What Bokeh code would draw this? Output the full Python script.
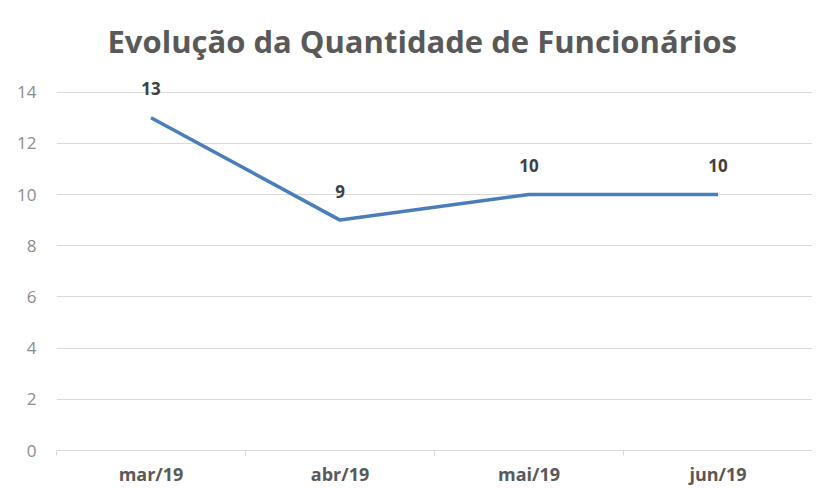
from bokeh.plotting import figure
from bokeh.models import ColumnDataSource, LabelSet, Range1d, FixedTicker
from bokeh.core.properties import value
from bokeh.embed import file_html
from bokeh.resources import INLINE

months = ["mar/19", "abr/19", "mai/19", "jun/19"]
employees = [13, 9, 10, 10]
y_ticks = [0, 2, 4, 6, 8, 10, 12, 14]

n = len(months)
pos = [i + 0.5 for i in range(n)]  # category slot centres
src = ColumnDataSource(dict(x=pos, y=employees, lbl=[str(v) for v in employees]))

p = figure(x_range=Range1d(0, n), y_range=Range1d(0, 15), width=812, height=488,
           output_backend="svg", toolbar_location=None,
           min_border_left=56, min_border_right=0, min_border_top=66, min_border_bottom=38,
           title="Evolução da Quantidade de Funcionários")
p.outline_line_color = None
p.background_fill_color = "white"
p.border_fill_color = "white"

p.title.align = "left"
p.title.offset = 51
p.title.text_font = "Open Sans"
p.title.text_font_style = "bold"
p.title.text_font_size = "31px"
p.title.text_color = "#595959"
p.title.standoff = 10

p.line("x", "y", source=src, line_color="#4a7ebb", line_width=3.5)

labels = LabelSet(x="x", y="y", text="lbl", source=src, y_offset=29,
                  text_align="center", text_baseline="middle",
                  text_font=value("Open Sans"), text_font_style="bold",
                  text_font_size="17px", text_color="#404040")
p.add_layout(labels)

# y axis
yax = p.yaxis[0]
yax.ticker = FixedTicker(ticks=y_ticks)
yax.axis_line_color = None
yax.major_tick_line_color = None
yax.major_tick_out = 0
yax.minor_tick_line_color = None
yax.major_label_text_font = "Open Sans"
yax.major_label_text_font_size = "17px"
yax.major_label_text_color = "#8c8c8c"
yax.major_label_standoff = 20

p.ygrid.ticker = FixedTicker(ticks=y_ticks)
p.ygrid.grid_line_color = "#d9d9d9"
p.xgrid.grid_line_color = None

# x axis: labels at slot centres, small ticks at slot boundaries
xax = p.xaxis[0]
xax.ticker = FixedTicker(ticks=pos, minor_ticks=list(range(n + 1)))
xax.major_label_overrides = {x: m for x, m in zip(pos, months)}
xax.axis_line_color = "#d9d9d9"
xax.major_tick_line_color = None
xax.major_tick_out = 0
xax.minor_tick_line_color = "#d9d9d9"
xax.minor_tick_out = 5
xax.minor_tick_in = 0
xax.major_label_text_font = "Open Sans"
xax.major_label_text_font_style = "bold"
xax.major_label_text_font_size = "18px"
xax.major_label_text_color = "#595959"
xax.major_label_standoff = 6

open("out.html", "w").write(file_html(p, INLINE))
